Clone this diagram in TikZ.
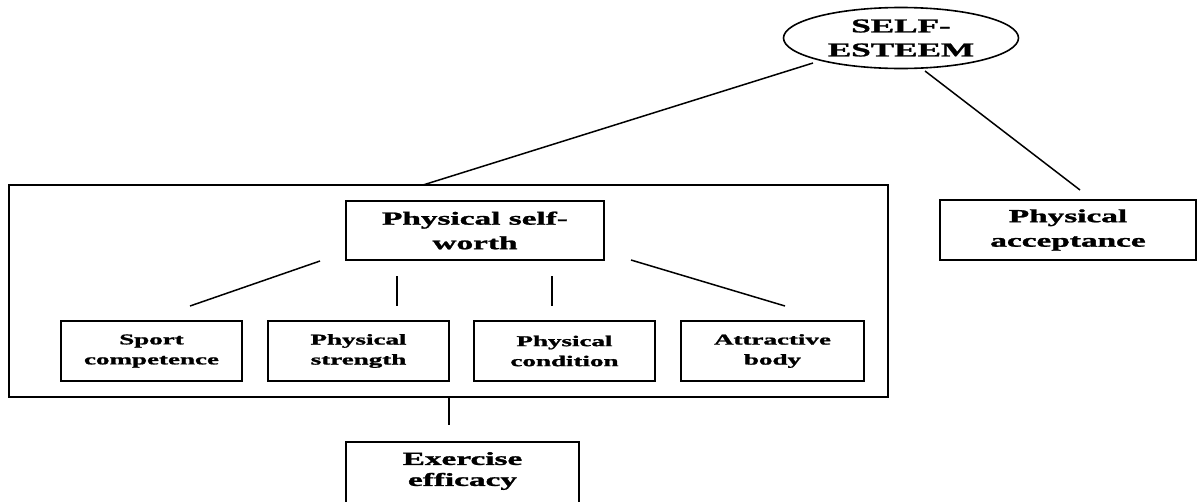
\documentclass[tikz,border=0pt]{standalone}
\usepackage{fontspec}
\usepackage{graphicx}
\setmainfont[BoldFeatures={FakeBold=1.2}]{Liberation Serif}
\usetikzlibrary{shapes.geometric}
\newcommand\wt[1]{\scalebox{1.8}[1]{#1}}
\begin{document}
\begin{tikzpicture}[x=1pt,y=-1pt,
  bx/.style={draw,line width=1.6pt,rectangle,inner sep=0pt,align=center,font=\bfseries\fontsize{15}{20}\selectfont},
  bigbx/.style={bx,font=\bfseries\fontsize{18.5}{24.5}\selectfont},
  conn/.style={line width=1.5pt}]
\useasboundingbox (0,0) rectangle (1198,501);
\fill[white] (0,0) rectangle (1198,501);
% top ellipse
\node[draw,ellipse,line width=1.6pt,minimum width=235pt,minimum height=61pt,inner sep=0pt,align=center,
  font=\bfseries\fontsize{19.5}{24}\selectfont] (se) at (901,38) {\wt{SELF-}\\\wt{ESTEEM}};
% outer frame
\draw[line width=1.8pt] (9,185) rectangle (888,397);
\coordinate (outtop) at (423,185);
\coordinate (outbot) at (449,397);
% boxes
\node[bigbx,minimum width=258pt,minimum height=59pt] (psw) at (475,230.5) {\wt{Physical self-}\\\wt{worth}};
\node[bigbx,minimum width=256pt,minimum height=60pt] (acc) at (1068,230) {\wt{Physical}\\\wt{acceptance}};
\node[bx,minimum width=181pt,minimum height=60pt] (sport) at (151.5,351) {\wt{Sport}\\\wt{competence}};
\node[bx,minimum width=181pt,minimum height=60pt] (str) at (358.5,351) {\wt{Physical}\\\wt{strength}};
\node[bx,minimum width=181pt,minimum height=60pt] (cond) at (564.5,351) {\wt{Physical}\\\wt{condition}};
\node[bx,minimum width=183pt,minimum height=60pt] (attr) at (772.5,351) {\wt{Attractive}\\\wt{body}};
\node[draw,line width=1.6pt,minimum width=233pt,minimum height=66pt,inner sep=0pt,anchor=north] (ex) at (462.5,441) {};
\node[font=\bfseries\fontsize{18.5}{21}\selectfont,align=center,inner sep=0pt] (extxt) at (462.5,471) {\wt{Exercise}\\\wt{efficacy}};
% connector end points
\coordinate (se1) at (813,63);
\coordinate (se2) at (925,71);
\coordinate (acctop) at (1080,190);
\coordinate (p1) at (320,261); \coordinate (s1) at (190,306);
\coordinate (p2) at (397,276); \coordinate (s2) at (397,306);
\coordinate (p3) at (552,276); \coordinate (s3) at (552,306);
\coordinate (p4) at (631,260); \coordinate (s4) at (785,306);
\coordinate (extop) at (449,425);
% connectors
\draw[conn] (se1) -- (outtop);
\draw[conn] (se2) -- (acctop);
\draw[conn] (p1) -- (s1);
\draw[conn] (p2) -- (s2);
\draw[conn] (p3) -- (s3);
\draw[conn] (p4) -- (s4);
\draw[conn] (outbot) -- (extop);
\end{tikzpicture}
\end{document}
